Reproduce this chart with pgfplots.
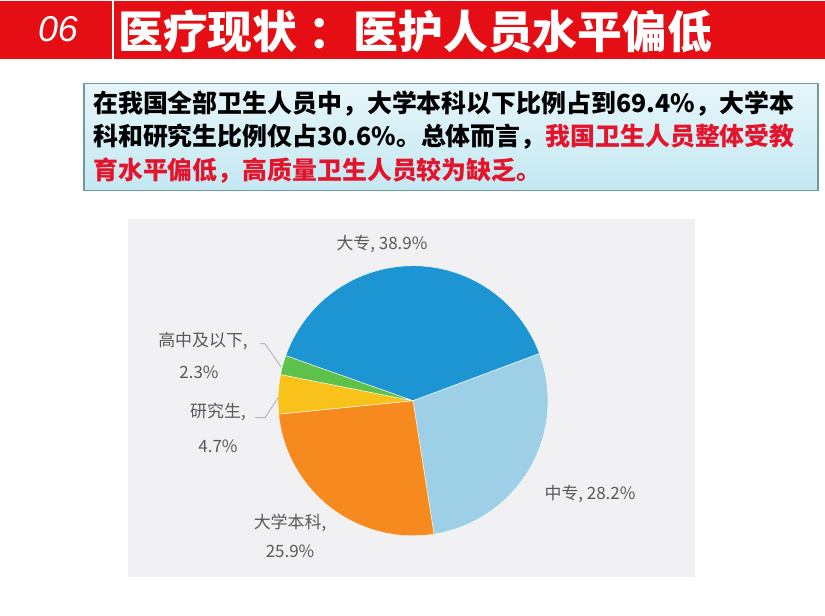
\documentclass[border=0pt]{standalone}
\usepackage{fontspec}
\setmainfont{Noto Sans CJK SC}
\newfontfamily\latfont{Liberation Sans}
\usepackage{pgfplots}
\usepackage{pgfplotstable}
\pgfplotsset{compat=1.18}
\usepgfplotslibrary{polar}

\definecolor{hdred}{HTML}{E50E14}
\definecolor{txtred}{HTML}{E3142B}
\definecolor{boxtop}{HTML}{E6F6FA}
\definecolor{boxbot}{HTML}{C4E8F2}
\definecolor{boxedge}{HTML}{6E9C9C}
\definecolor{chartbg}{HTML}{F1F1F3}
\definecolor{lblgray}{HTML}{595959}
\definecolor{cDazhuan}{HTML}{1E95D3}
\definecolor{cZhongzhuan}{HTML}{9DCFE6}
\definecolor{cBenke}{HTML}{F78A1E}
\definecolor{cYanjiu}{HTML}{F8C21A}
\definecolor{cGaozhong}{HTML}{5EC24A}

% share of each level, %, clockwise order
\pgfplotstableread{
share
38.9
28.2
25.9
4.7
2.3
}\piedata

\begin{document}
\begin{tikzpicture}[x=1bp,y=-1bp]
% slide background
\fill[white] (0,0) rectangle (825,615);
\fill[hdred] (0,0) rectangle (825,58);
\draw[white, line width=1.5bp] (113,0) -- (113,58);
\node[text=white, font=\latfont\itshape\fontsize{36}{36}\selectfont] at (58,28) {06};
\node[anchor=west, text=white, font=\bfseries\fontsize{45}{45}\selectfont, inner sep=0pt] at (118,31) {医疗现状\hspace{0.25em}：医护人员水平偏低};

% text box
\shade[top color=boxtop, bottom color=boxbot] (84,83) rectangle (818,190);
\draw[boxedge, line width=1.5bp] (84,83) rectangle (818,190);
\node[anchor=north west, align=left, inner sep=0pt, font=\bfseries\fontsize{25}{33.5}\selectfont] at (93,90)
  {在我国全部卫生人员中，大学本科以下比例占到69.4\%，大学本\\
   科和研究生比例仅占30.6\%。总体而言，\textcolor{txtred}{我国卫生人员整体受教}\\
   \textcolor{txtred}{育水平偏低，高质量卫生人员较为缺乏。}};

% chart area
\fill[chartbg] (128,218) rectangle (695,576);
\coordinate (piecenter) at (413,400);

% slice angles from the shares
\pgfmathsetmacro\aA{520.5}
\pgfplotstablegetelem{0}{share}\of\piedata \pgfmathsetmacro\aB{\aA-3.6*\pgfplotsretval}
\pgfplotstablegetelem{1}{share}\of\piedata \pgfmathsetmacro\aC{\aB-3.6*\pgfplotsretval}
\pgfplotstablegetelem{2}{share}\of\piedata \pgfmathsetmacro\aD{\aC-3.6*\pgfplotsretval}
\pgfplotstablegetelem{3}{share}\of\piedata \pgfmathsetmacro\aE{\aD-3.6*\pgfplotsretval}
\pgfplotstablegetelem{4}{share}\of\piedata \pgfmathsetmacro\aF{\aE-3.6*\pgfplotsretval}

\begin{polaraxis}[
    at={(piecenter)}, anchor=center,
    hide axis, scale only axis, clip=false,
    width=270bp, height=270bp,
    ymin=0, ymax=1,
    every axis plot/.append style={draw=white, line width=0.4bp, samples=90},
  ]
  \addplot[fill=cDazhuan, domain=\aB:\aA] {1} -- (axis cs:0,0) -- cycle;
  \addplot[fill=cZhongzhuan, domain=\aC:\aB] {1} -- (axis cs:0,0) -- cycle;
  \addplot[fill=cBenke, domain=\aD:\aC] {1} -- (axis cs:0,0) -- cycle;
  \addplot[fill=cYanjiu, domain=\aE:\aD] {1} -- (axis cs:0,0) -- cycle;
  \addplot[fill=cGaozhong, domain=\aF:\aE] {1} -- (axis cs:0,0) -- cycle;
\end{polaraxis}

% labels
\begin{scope}[every node/.style={text=lblgray, font=\fontsize{17}{17}\selectfont, inner sep=0pt}]
  \node at (382,243) {大专, 38.9\%};
  \node at (590,493) {中专, 28.2\%};
  \node at (290,522) {大学本科,};
  \node at (290,551) {25.9\%};
  \node at (218,411) {研究生,};
  \node at (218,446) {4.7\%};
  \node at (203,340) {高中及以下,};
  \node at (199,372) {2.3\%};
\end{scope}
\draw[lblgray!60, line width=0.6bp] (260,343) -- (265,343) -- (281,366);
\draw[lblgray!60, line width=0.6bp] (255,417) -- (265,417) -- (278,397);
\end{tikzpicture}
\end{document}
